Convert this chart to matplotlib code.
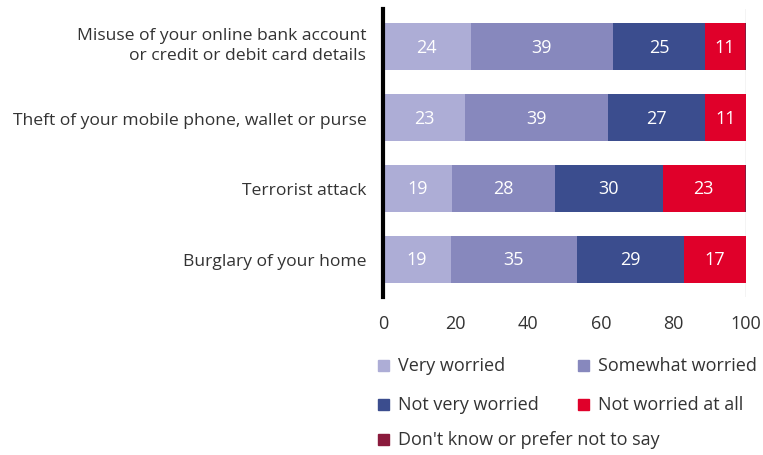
import numpy as np
import matplotlib
matplotlib.use('Agg')
from matplotlib import pyplot as plt
from matplotlib.patches import Rectangle
import matplotlib.transforms as mtransforms

plt.rcParams['font.family'] = ['Open Sans', 'DejaVu Sans']

categories = ['Misuse of your online bank account\nor credit or debit card details',
              'Theft of your mobile phone, wallet or purse',
              'Terrorist attack',
              'Burglary of your home']
series = ['Very worried', 'Somewhat worried', 'Not very worried',
          'Not worried at all', "Don't know or prefer not to say"]
very_worried = [24.2, 22.6, 19.0, 18.6]
somewhat_worried = [39.2, 39.4, 28.4, 34.8]
not_very_worried = [25.3, 26.7, 29.6, 29.4]
not_worried = [11.0, 11.3, 22.7, 17.2]
dont_know = [0.3, 0.0, 0.3, 0.0]
colors = ['#adadd6', '#8788bd', '#3b4d8e', '#e0002a', '#8a1a3c']
txtcol = '#333333'

data = [very_worried, somewhat_worried, not_very_worried, not_worried, dont_know]

W, H = 763, 456
fig = plt.figure(figsize=(W/100, H/100), dpi=100)
ax = fig.add_axes([383/W, 1-298/H, (746-383)/W, 288/H])

y = np.arange(len(categories))
left = np.zeros(len(categories))
for vals, col in zip(data, colors):
    vals = np.array(vals)
    ax.barh(y, vals, left=left, height=0.66, color=col, zorder=2)
    for yi, (l, v) in enumerate(zip(left, vals)):
        if v >= 5:
            ax.text(l+v/2, yi, '%d' % round(v), color='white', ha='center',
                    va='center', fontsize=13, zorder=3)
    left += vals

ax.axvline(100, color='#c8c8c8', lw=1, zorder=1)
ax.set_xlim(0, 100)
ax.set_ylim(3.53, -0.53)
ax.set_yticks(y)
ax.set_yticklabels(categories, fontsize=12.6, linespacing=1.35)
ax.set_xticks([0, 20, 40, 60, 80, 100])
ax.tick_params(axis='x', length=0, labelsize=13, colors=txtcol, pad=12)
ax.tick_params(axis='y', length=0, colors=txtcol, pad=12)
# first label sits a little higher than the bar centre
lab0 = ax.get_yticklabels()[0]
lab0.set_transform(lab0.get_transform() +
                   mtransforms.ScaledTranslation(0, 6/100, fig.dpi_scale_trans))
for s in ['top', 'right', 'bottom']:
    ax.spines[s].set_visible(False)
ax.spines['left'].set_linewidth(3)
ax.spines['left'].set_color('black')

# legend drawn by hand, row by row in two columns
leg_x = [378, 578]
leg_y = [366, 405, 440]
for i, (s, c) in enumerate(zip(series, colors)):
    px = leg_x[i % 2]
    py = leg_y[i // 2]
    fig.add_artist(Rectangle((px/W, 1-(py+5.5)/H), 11/W, 11/H,
                             color=c, transform=fig.transFigure))
    fig.text((px+20)/W, 1-py/H, s, fontsize=13, color=txtcol,
             va='center', ha='left')

fig.savefig('out.png', dpi=100)
